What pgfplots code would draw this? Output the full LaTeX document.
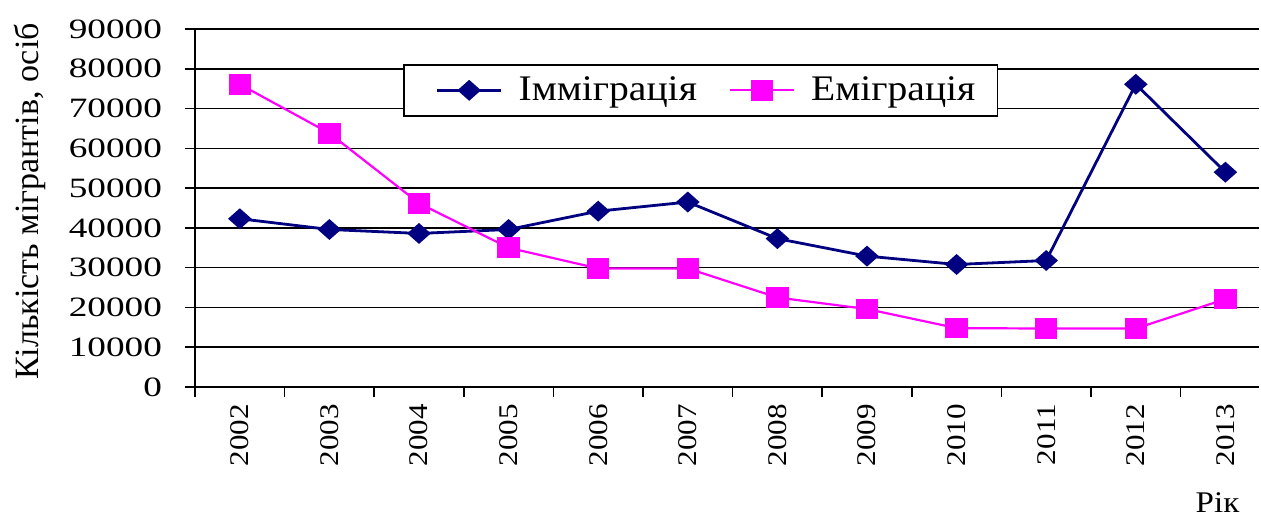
\documentclass[border=0pt]{standalone}
\usepackage{fontspec}
\setmainfont{Liberation Serif}
\newfontfamily\hfont[FakeStretch=1.33]{Liberation Serif}
\newfontfamily\xfont[FakeStretch=1.15]{Liberation Serif}
\newfontfamily\lfont[FakeStretch=1.1]{Liberation Serif}
\usepackage{pgfplots}
\pgfplotsset{compat=1.18}
\definecolor{navy}{RGB}{0,0,128}
\definecolor{mag}{RGB}{255,0,255}
\begin{document}
\begin{tikzpicture}
\begin{axis}[name=ax, scale only axis, width=532pt, height=179pt,
  xmin=-0.5, xmax=11.375, ymin=0, ymax=90000,
  axis lines=left, axis line style={black, line width=0.8pt, -},
  tick align=outside, major tick length=5pt, minor tick length=5pt,
  tick style={black, line width=0.8pt},
  scaled y ticks=false,
  ytick={0,10000,...,90000},
  yticklabels={0,10000,20000,30000,40000,50000,60000,70000,80000,90000},
  ymajorgrids, grid style={black, line width=0.8pt},
  /pgf/number format/assume math mode=true,
  y tick label style={font=\hfont\fontsize{14}{14}\selectfont, xshift=-8pt},
  xtick={0,...,11},
  xticklabels={2002,2003,2004,2005,2006,2007,2008,2009,2010,2011,2012,2013},
  major x tick style={draw=none},
  minor xtick={-0.5,0.5,...,10.5},
  x tick label style={rotate=90, anchor=east, font=\xfont\fontsize{13.5}{13.5}\selectfont, yshift=0pt},
  ylabel={Кількість мігрантів, осіб},
  ylabel style={at={(rel axis cs:-0.155,0.518)}, anchor=center, rotate=0, font=\fontsize{17}{17}\selectfont},
  xlabel={Рік},
  xlabel style={at={(rel axis cs:0.961,-0.322)}, anchor=center, font=\lfont\fontsize{15}{15}\selectfont},
  legend style={at={(rel axis cs:0.1955,0.902)}, anchor=north west, draw=black, line width=0.8pt,
    fill=white, font=\lfont\fontsize{18}{18}\selectfont, legend columns=2,
    inner xsep=9pt, inner ysep=4pt,
    /tikz/every odd column/.append style={column sep=6pt},
    /tikz/every even column/.append style={column sep=7pt}},
  legend image code/.code={\path (0pt,0pt); \draw[#1, mark repeat=2, mark phase=2] plot coordinates {(7pt,0pt) (23pt,0pt) (39pt,0pt)};},
]
\addplot[navy, line width=1.4pt, mark=diamond*, mark size=4.3pt, mark options={xscale=1.5, solid}]
  coordinates {(0,42300) (1,39600) (2,38600) (3,39600) (4,44200) (5,46500)
               (6,37300) (7,32900) (8,30800) (9,31800) (10,76100) (11,54000)};
\addlegendentry{Іммігрaція}
\addplot[mag, line width=1.1pt, mark=square*, mark size=4.6pt, mark options={xscale=1.1, solid}]
  coordinates {(0,76100) (1,63800) (2,46200) (3,35000) (4,29800) (5,29800)
               (6,22500) (7,19600) (8,14800) (9,14700) (10,14700) (11,22100)};
\addlegendentry{Еміграція}
\end{axis}
\pgfresetboundingbox
\path[use as bounding box] ([xshift=-97.5pt,yshift=-65pt]ax.south west) rectangle ([xshift=533pt,yshift=193.5pt]ax.south west);
\end{tikzpicture}
\end{document}
